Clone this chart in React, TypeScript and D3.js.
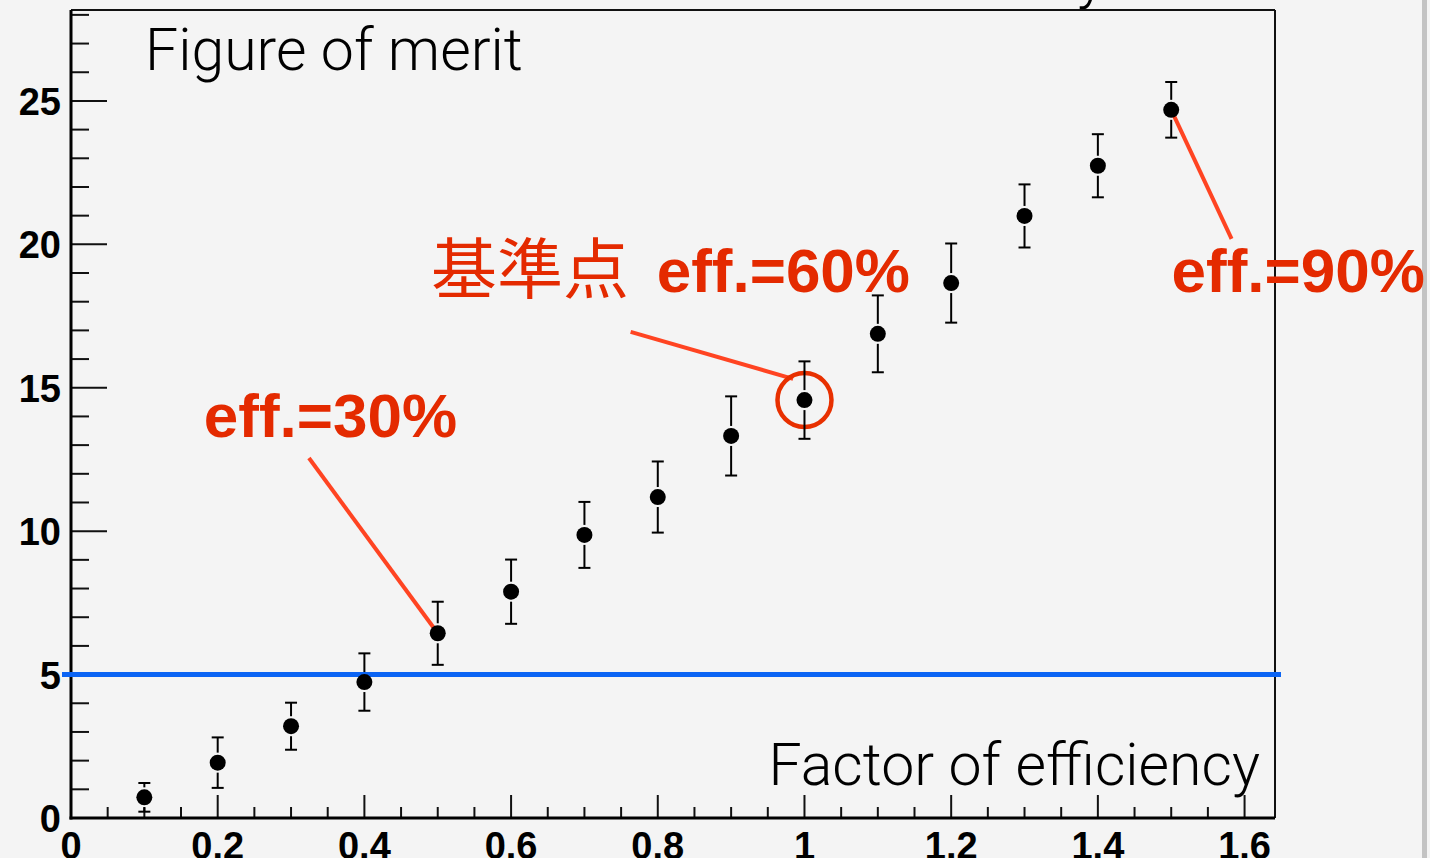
import * as d3 from 'd3';

const factors = [0.1, 0.2, 0.3, 0.4, 0.5, 0.6, 0.7, 0.8, 0.9, 1.0, 1.1, 1.2, 1.3, 1.4, 1.5];
const merit = [0.72, 1.93, 3.2, 4.74, 6.44, 7.89, 9.87, 11.19, 13.32, 14.57, 16.88, 18.65, 20.99, 22.74, 24.69];
const meritErr = [0.5, 0.88, 0.82, 1.0, 1.1, 1.12, 1.15, 1.24, 1.38, 1.35, 1.34, 1.38, 1.1, 1.1, 0.97];

const xTickValues = [0, 0.2, 0.4, 0.6, 0.8, 1.0, 1.2, 1.4, 1.6];
const xTickLabels = ['0', '0.2', '0.4', '0.6', '0.8', '1', '1.2', '1.4', '1.6'];
const yTickValues = [0, 5, 10, 15, 20, 25];
const yTickLabels = ['0', '5', '10', '15', '20', '25'];
const threshold = 5;

// annotation callouts (data units)
const callouts = [
  { label: 'eff.=30%', tx: 0.181, ty: 13.3, x1: 0.3244, y1: 12.55, x2: 0.5, y2: 6.44 },
  { label: 'eff.=60%', tx: 0.7985, ty: 18.33, x1: 0.763, y1: 16.95, x2: 0.9845, y2: 15.31 },
  { label: 'eff.=90%', tx: 1.5005, ty: 18.33, x1: 1.5, y1: 24.69, x2: 1.5823, y2: 20.19 },
];
const refLabel = '基準点';
const refFactor = 1.0;

const W = 1430;
const H = 858;
const red = '#e42a00';
const lineRed = '#ff4422';
const boldFont = '"Liberation Sans", Arial, Helvetica, sans-serif';
const lightFont = 'Roboto, "Open Sans", "Liberation Sans", sans-serif';

export default function App() {
  const x = d3.scaleLinear().domain([0, 1.6415]).range([71, 1275]);
  const y = d3.scaleLinear().domain([0, 28.17]).range([818, 10]);

  const xMinor = d3.range(0, 33).map(i => +(i * 0.05).toFixed(2));
  const yMinor = d3.range(0, 29);
  const r = 8;
  const refIdx = factors.indexOf(refFactor);

  return (
    <svg width={W} height={H} style={{ position: 'fixed', left: 0, top: 0, display: 'block' }}>
      <rect x={0} y={0} width={W} height={H} fill="#f4f4f4" />
      <rect x={1422} y={0} width={5} height={H} fill="#c3c3c3" />

      {/* cut-off text above the frame */}
      <text x={1077} y={-3} fontFamily={lightFont} fontWeight={300} fontSize={60} fill="#000">y</text>

      {/* frame */}
      <line x1={x(0)} x2={x.range()[1]} y1={y.range()[1]} y2={y.range()[1]} stroke="#111" strokeWidth={2} />
      <line x1={x.range()[1]} x2={x.range()[1]} y1={y.range()[1]} y2={y(0)} stroke="#111" strokeWidth={2} />

      {/* y ticks */}
      {yMinor.map(v => (
        <line key={'yt' + v} x1={x(0)} x2={x(0) + (v % 5 === 0 ? 36 : 18)} y1={y(v)} y2={y(v)} stroke="#111" strokeWidth={2} />
      ))}
      {/* x ticks */}
      {xMinor.map((v, i) => (
        <line key={'xt' + v} x1={x(v)} x2={x(v)} y1={y(0)} y2={y(0) - (i % 4 === 0 ? 23 : 11)} stroke="#111" strokeWidth={2} />
      ))}

      <line x1={x(0)} x2={x(0)} y1={y.range()[1]} y2={y(0) + 1.5} stroke="#000" strokeWidth={3} />
      <line x1={x(0) - 1.5} x2={x.range()[1]} y1={y(0)} y2={y(0)} stroke="#000" strokeWidth={3} />

      {yTickValues.map((v, i) => (
        <text key={'yl' + v} x={61} y={y(v) + 14} textAnchor="end" fontFamily={boldFont} fontWeight="bold" fontSize={38} fill="#000">
          {yTickLabels[i]}
        </text>
      ))}
      {xTickValues.map((v, i) => (
        <text key={'xl' + v} x={x(v)} y={859} textAnchor="middle" fontFamily={boldFont} fontWeight="bold" fontSize={38} fill="#000">
          {xTickLabels[i]}
        </text>
      ))}

      {/* axis titles */}
      <text x={145} y={70} fontFamily={lightFont} fontWeight={300} fontSize={59} fill="#000">Figure of merit</text>
      <text x={1260} y={785} textAnchor="end" fontFamily={lightFont} fontWeight={300} fontSize={59} fill="#000">Factor of efficiency</text>

      {/* threshold line */}
      <line x1={62} x2={1281} y1={y(threshold)} y2={y(threshold)} stroke="#0b64f4" strokeWidth={5} />

      {/* callout lines */}
      {callouts.map(c => (
        <line key={'cl' + c.label} x1={x(c.x1)} y1={y(c.y1)} x2={x(c.x2)} y2={y(c.y2)} stroke={lineRed} strokeWidth={4} />
      ))}
      <circle cx={x(refFactor)} cy={y(merit[refIdx])} r={27} fill="none" stroke="#e83000" strokeWidth={4.5} />

      {/* error bars + markers */}
      {factors.map((f, i) => {
        const cx = x(f);
        const cy = y(merit[i]);
        const top = y(merit[i] + meritErr[i]);
        const bot = y(merit[i] - meritErr[i]);
        return (
          <g key={'p' + f}>
            <line x1={cx} x2={cx} y1={top} y2={Math.min(cy - r - 2, top + 100)} stroke="#000" strokeWidth={2} />
            <line x1={cx} x2={cx} y1={cy + r + 2} y2={bot} stroke="#000" strokeWidth={2} />
            <line x1={cx - 6} x2={cx + 6} y1={top} y2={top} stroke="#000" strokeWidth={2} />
            <line x1={cx - 6} x2={cx + 6} y1={bot} y2={bot} stroke="#000" strokeWidth={2} />
            <circle cx={cx} cy={cy} r={r} fill="#000" />
          </g>
        );
      })}

      {/* callout texts */}
      {callouts.map(c => (
        <text key={'ct' + c.label} x={x(c.tx)} y={y(c.ty)} fontFamily={boldFont} fontWeight="bold" fontSize={62} fill={red}>
          {c.label}
        </text>
      ))}
      <text x={431} y={293} fontFamily={'"Noto Sans CJK JP", "Noto Sans CJK SC", sans-serif'} fontWeight={400} fontSize={66} fill={red}>
        {refLabel}
      </text>
    </svg>
  );
}
